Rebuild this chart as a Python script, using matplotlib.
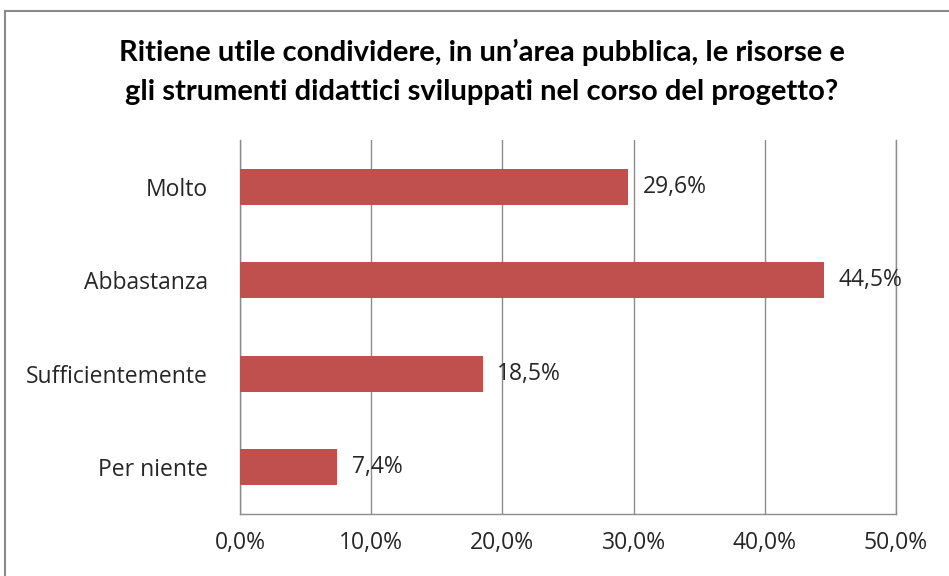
import matplotlib.pyplot as plt
from matplotlib.patches import Rectangle
from matplotlib.ticker import FuncFormatter

categories = ["Molto", "Abbastanza", "Sufficientemente", "Per niente"]
values = [29.6, 44.5, 18.5, 7.4]
ticks = [0, 10, 20, 30, 40, 50]
title_lines = ["Ritiene utile condividere, in un\u2019area pubblica, le risorse e",
               "gli strumenti didattici sviluppati nel corso del progetto?"]

bar_color = "#C0504D"
grid_color = "#8C8C8C"
text_color = "#262626"
label_font = "Open Sans"
fs = 16.5

fig = plt.figure(figsize=(9.49, 5.76), dpi=100)

# outer chart frame (cropped on the right and bottom)
fig.patches.append(Rectangle((5 / 949, -0.1), 1.2, (576 - 11) / 576 + 0.1,
                             transform=fig.transFigure, fill=False,
                             edgecolor="#8A8A8A", linewidth=1.5))

ax = fig.add_axes([240 / 949, 62 / 576, 656 / 949, 374 / 576])

y = list(range(len(categories)))
ax.barh(y, values, height=0.39, color=bar_color, zorder=3)
for yi, v in zip(y, values):
    ax.text(v + 1.1, yi, f"{v:.1f}%".replace(".", ","), va="center", ha="left",
            fontsize=fs, family=label_font, color=text_color, zorder=4)

ax.set_ylim(3.5, -0.5)
ax.set_xlim(0, 50)
ax.set_yticks(y)
ax.set_yticklabels(categories, fontsize=fs, family=label_font, color=text_color)
ax.set_xticks(ticks)
ax.xaxis.set_major_formatter(FuncFormatter(lambda x, p: f"{x:.1f}%".replace(".", ",")))
for lab in ax.get_xticklabels():
    lab.set_fontsize(fs)
    lab.set_family(label_font)
    lab.set_color(text_color)
ax.tick_params(axis="both", length=0)
ax.tick_params(axis="x", pad=12)
ax.tick_params(axis="y", pad=23)

ax.grid(axis="x", color=grid_color, linewidth=1, zorder=0)
ax.axvline(50, color=grid_color, linewidth=1, clip_on=False, zorder=0)
for s in ["top", "right"]:
    ax.spines[s].set_visible(False)
for s in ["left", "bottom"]:
    ax.spines[s].set_color(grid_color)
    ax.spines[s].set_linewidth(1)

for line, ypx in zip(title_lines, [52, 92]):
    fig.text(482 / 949, 1 - ypx / 576, line, ha="center", va="center",
             fontsize=21, fontweight="bold", family="Lato", color="black")

fig.savefig("out.png", dpi=100)
